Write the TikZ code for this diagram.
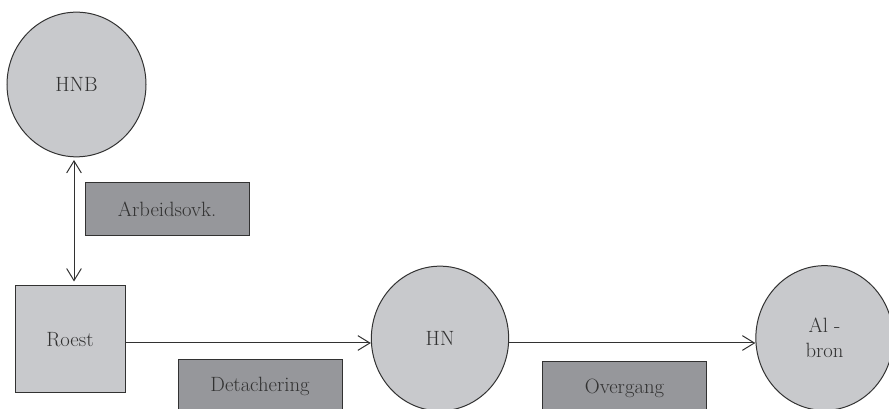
\documentclass[tikz,border=0pt]{standalone}
\usepackage{tikz}
\usetikzlibrary{shapes.geometric,arrows.meta}
\definecolor{lysgraa}{RGB}{200,201,204}
\definecolor{morkgraa}{RGB}{150,151,155}
\definecolor{strek}{RGB}{50,50,50}

\begin{document}
\begin{tikzpicture}[
        x=0.75pt,y=-0.75pt,
        rund/.style={font=\fontsize{15.5}{19}\selectfont\color{strek},draw=strek,fill=lysgraa,ellipse,line width=0.75pt,inner sep=0pt,minimum width=103pt,minimum height=108.5pt,align=center},
        firkant/.style={font=\fontsize{15.5}{19}\selectfont\color{strek},draw=strek,fill=lysgraa,rectangle,line width=0.75pt,inner sep=0pt,minimum width=82.5pt,minimum height=80.25pt},
        boks/.style={font=\fontsize{15.5}{19}\selectfont\color{strek},draw=strek,fill=morkgraa,rectangle,line width=0.75pt,inner sep=0pt,minimum width=123pt,minimum height=39.75pt},
        pil/.style={draw=strek,line width=0.75pt,-{Straight Barb[length=9pt,width=11pt]}}
    ]
    \useasboundingbox (0,0) rectangle (889,409);
    \clip (0,0) rectangle (889,409);
    \node[rund,minimum width=104.25pt] (hnb) at (76.5,84.5) {HNB};
    \node[firkant] (roest) at (70,339.5) {Roest};
    \node[rund] (hn) at (440,338.5) {HN};
    \node[rund] (albron) at (824.5,338) {Al -\\bron};
    \node[boks] (arbeid) at (167,209.5) {Arbeidsovk.};
    \node[boks] (detach) at (260,386.5) {Detachering};
    \node[boks] (overgang) at (624.5,388.5) {Overgang};
    \draw[pil,{Straight Barb[length=9pt,width=11pt]}-{Straight Barb[length=9pt,width=11pt]},shorten <=2pt,shorten >=3pt] (hnb.south -| 74,0) -- (roest.north -| 74,0);
    \draw[pil] (roest.east |- 0,343) -- (hn.west |- 0,343);
    \draw[pil] (hn.east |- 0,343) -- (albron.west |- 0,343);
\end{tikzpicture}
\end{document}
